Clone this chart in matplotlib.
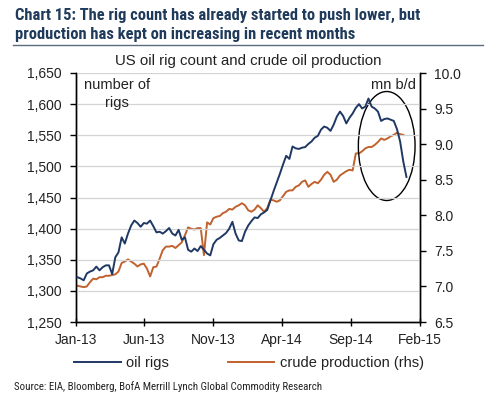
import numpy as np
import pandas as pd
import matplotlib
matplotlib.use("Agg")
import matplotlib.pyplot as plt
from matplotlib import font_manager as fm
from matplotlib.patches import Ellipse
from matplotlib.lines import Line2D

# ---------------- data ----------------
start_week = "2013-01-04"
oil_rigs = [1322, 1320, 1317, 1328, 1331, 1333, 1339, 1333, 1338, 1341,
            1341, 1327, 1354, 1362, 1386, 1376, 1392, 1405, 1413, 1409,
            1403, 1409, 1408, 1413, 1404, 1394, 1395, 1392, 1396, 1401,
            1392, 1389, 1398, 1382, 1386, 1366, 1363, 1368, 1364, 1372,
            1366, 1360, 1357, 1375, 1382, 1385, 1389, 1393, 1400, 1411,
            1392, 1381, 1380, 1395, 1405, 1412, 1418, 1417, 1423, 1426,
            1430, 1445, 1460, 1474, 1488, 1503, 1517, 1512, 1532, 1529,
            1528, 1530, 1531, 1536, 1540, 1546, 1549, 1559, 1564, 1562,
            1557, 1567, 1580, 1588, 1581, 1569, 1578, 1585, 1594, 1600,
            1593, 1596, 1609, 1596, 1593, 1588, 1573, 1576, 1577, 1575,
            1573, 1560, 1540, 1508, 1483]
crude_production = [7.01, 7.00, 6.99, 7.00, 7.06, 7.11, 7.10, 7.13, 7.13, 7.15,
                    7.15, 7.16, 7.17, 7.21, 7.33, 7.35, 7.38, 7.35, 7.32, 7.28,
                    7.31, 7.32, 7.25, 7.14, 7.27, 7.28, 7.39, 7.51, 7.56, 7.56,
                    7.57, 7.54, 7.58, 7.62, 7.72, 7.83, 7.81, 7.80, 7.82, 7.82,
                    7.44, 7.90, 7.87, 7.96, 7.98, 7.99, 8.03, 8.05, 8.09, 8.08,
                    8.12, 8.14, 8.17, 8.14, 8.07, 8.05, 8.08, 8.14, 8.10, 8.05,
                    8.10, 8.22, 8.21, 8.19, 8.21, 8.27, 8.33, 8.35, 8.35, 8.40,
                    8.42, 8.47, 8.49, 8.40, 8.44, 8.47, 8.45, 8.50, 8.57, 8.61,
                    8.57, 8.47, 8.50, 8.56, 8.59, 8.62, 8.64, 8.63, 8.87, 8.87,
                    8.90, 8.94, 8.96, 8.96, 8.99, 9.03, 9.08, 9.06, 9.08, 9.11,
                    9.13, 9.16, 9.14, 9.13]
x_tick_labels = ["Jan-13", "Jun-13", "Nov-13", "Apr-14", "Sep-14", "Feb-15"]
x_tick_dates = ["2013-01-01", "2013-06-01", "2013-11-01", "2014-04-01",
                "2014-09-01", "2015-02-01"]
left_ticks = [1250, 1300, 1350, 1400, 1450, 1500, 1550, 1600, 1650]
right_ticks = [6.5, 7.0, 7.5, 8.0, 8.5, 9.0, 9.5, 10.0]

# ---------------- style ----------------
NAVY = "#1f3864"
ORANGE = "#c0622e"
TITLE_C = "#1f3a5a"
plt.rcParams["font.family"] = ["Liberation Sans", "DejaVu Sans"]

# pick a narrow face if one is installed, otherwise shrink the regular one
_names = {f.name for f in fm.fontManager.ttflist}
_narrow = None
for cand in ["Liberation Sans Narrow", "Arial Narrow", "Roboto Condensed",
             "Open Sans Condensed", "DejaVu Sans Condensed"]:
    if cand in _names:
        _narrow = cand
        break
if _narrow:
    TITLE_FONT = dict(family=[_narrow, "DejaVu Sans"], fontsize=11.9)
    SRC_FONT = dict(family=[_narrow, "DejaVu Sans"], fontsize=7.8)
else:
    TITLE_FONT = dict(family=["Liberation Sans", "DejaVu Sans"], fontsize=10.3)
    SRC_FONT = dict(family=["Liberation Sans", "DejaVu Sans"], fontsize=6.9)

W, H = 497, 401
fig = plt.figure(figsize=(W / 100, H / 100), dpi=100)
fig.patch.set_facecolor("white")

def fx(px):
    return px / W

def fy(py):
    return 1 - py / H

ax = fig.add_axes([fx(76), fy(322), fx(420) - fx(76), fy(73) - fy(322)])
ax2 = ax.twinx()

dates_rig = pd.date_range(start_week, periods=len(oil_rigs), freq="7D")
dates_prod = pd.date_range(start_week, periods=len(crude_production), freq="7D")

ax.plot(dates_rig, oil_rigs, color=NAVY, lw=1.4, zorder=3)
ax2.plot(dates_prod, crude_production, color=ORANGE, lw=1.4, zorder=2)
ax.set_zorder(ax2.get_zorder() + 1)
ax.patch.set_visible(False)

ax.set_ylim(1250, 1650)
ax2.set_ylim(6.5, 10.0)
ax.set_xlim(pd.Timestamp("2013-01-01"), pd.Timestamp("2015-02-01"))
ax.set_yticks(left_ticks)
ax.set_yticklabels([f"{v:,}" for v in left_ticks])
ax2.set_yticks(right_ticks)
ax2.set_yticklabels([f"{v:.1f}" for v in right_ticks])
ax.set_xticks([pd.Timestamp(d) for d in x_tick_dates])
ax.set_xticklabels(x_tick_labels)

for a in (ax, ax2):
    a.spines["top"].set_visible(False)
    for s in ("left", "right", "bottom"):
        a.spines[s].set_color("black")
        a.spines[s].set_linewidth(1.0)
ax.grid(axis="y", color="#d4d4d4", lw=0.9, zorder=0)
ax.set_axisbelow(True)
ax.tick_params(axis="y", direction="out", length=4, width=1, labelsize=10,
               colors="black", labelcolor="#222222", pad=6)
ax2.tick_params(axis="y", direction="out", length=4, width=1, labelsize=10,
                colors="black", labelcolor="#222222", pad=6)
ax.tick_params(axis="x", direction="inout", length=6, width=1, labelsize=10,
               labelcolor="#222222", pad=5)

# ---------------- texts ----------------
fig.text(fx(15), fy(15.5), "Chart 15: The rig count has already started to push lower, but",
         fontweight="bold", color=TITLE_C, va="center", ha="left", **TITLE_FONT)
fig.text(fx(15), fy(34.5), "production has kept on increasing in recent months",
         fontweight="bold", color=TITLE_C, va="center", ha="left", **TITLE_FONT)
fig.add_artist(Line2D([fx(13), fx(483)], [fy(44.5), fy(44.5)], color="#5a6b80", lw=1.0))
fig.text(fx(248), fy(61), "US oil rig count and crude oil production",
         fontsize=10.8, color="#222222", ha="center", va="center")
fig.text(fx(117), fy(85), "number of", fontsize=10.5, color="#222222",
         ha="center", va="center")
fig.text(fx(117), fy(103), "rigs", fontsize=10.5, color="#222222",
         ha="center", va="center")
fig.text(fx(416), fy(85), "mn b/d", fontsize=10.5, color="#222222",
         ha="right", va="center")

ell = Ellipse((fx(386.7), fy(146)), fx(56.7), 109 / H, transform=fig.transFigure,
              fill=False, edgecolor="black", lw=1.0)
fig.add_artist(ell)

handles = [Line2D([], [], color=NAVY, lw=1.4), Line2D([], [], color=ORANGE, lw=1.4)]
fig.legend(handles, ["oil rigs", "crude production (rhs)"], loc="center left",
           bbox_to_anchor=(fx(74), fy(363)), ncol=2, frameon=False,
           fontsize=10.5, handlelength=3.2, handletextpad=0.4, columnspacing=4.0,
           borderaxespad=0, borderpad=0, labelcolor="#222222")

fig.text(fx(14), fy(387), "Source: EIA, Bloomberg, BofA Merrill Lynch Global Commodity Research",
         color="#222222", ha="left", va="center", **SRC_FONT)

fig.savefig("out.png", dpi=100, facecolor="white")
